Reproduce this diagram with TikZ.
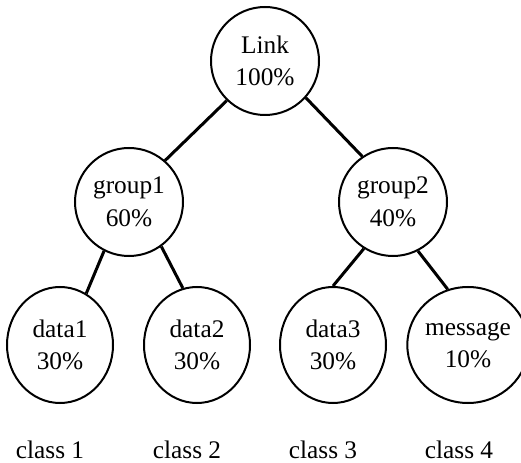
\documentclass[tikz,border=0pt]{standalone}
\usepackage{fontspec}
\setmainfont{Liberation Serif}
\usetikzlibrary{shapes.geometric}
\begin{document}
\begin{tikzpicture}[x=0.75pt,y=-0.75pt,
	share/.style={circle,draw,line width=1.5pt,minimum size=81pt,inner sep=0pt,align=center,font=\fontsize{19}{24.5}\selectfont},
	leaf/.style={ellipse,draw,line width=1.5pt,minimum width=79.5pt,minimum height=87pt,inner sep=0pt,align=center,font=\fontsize{19}{24.5}\selectfont},
	branch/.style={line width=2.25pt},
	classlabel/.style={anchor=base,font=\fontsize{19}{24.5}\selectfont}]
	\useasboundingbox (0,0) rectangle (521,463);
	
	% tree of shares
	\node[share] (link) at (265,61) {Link\\100\%};
	\node[share] (g1) at (129,202) {group1\\60\%};
	\node[share] (g2) at (393,202) {group2\\40\%};
	
	\node[leaf] (d1) at (60,345) {data1\\30\%};
	\node[leaf] (d2) at (197,345) {data2\\30\%};
	\node[leaf] (d3) at (333,345) {data3\\30\%};
	\node[leaf] (msg) at (468,345) {message\\10\%};
	
	\draw[branch] (link.226) -- (g1.49);
	\draw[branch] (link.318) -- (g2.124);
	\draw[branch] (g1.243) -- (d1.63);
	\draw[branch] (g1.306) -- (d2.104);
	\draw[branch] (g2.238) -- (d3.90);
	\draw[branch] (g2.297) -- (msg.110);
	
	% classes
	\node[classlabel] (c1) at (50,458) {class 1};
	\node[classlabel] (c2) at (187,458) {class 2};
	\node[classlabel] (c3) at (323,458) {class 3};
	\node[classlabel] (c4) at (459,458) {class 4};
\end{tikzpicture}
\end{document}
